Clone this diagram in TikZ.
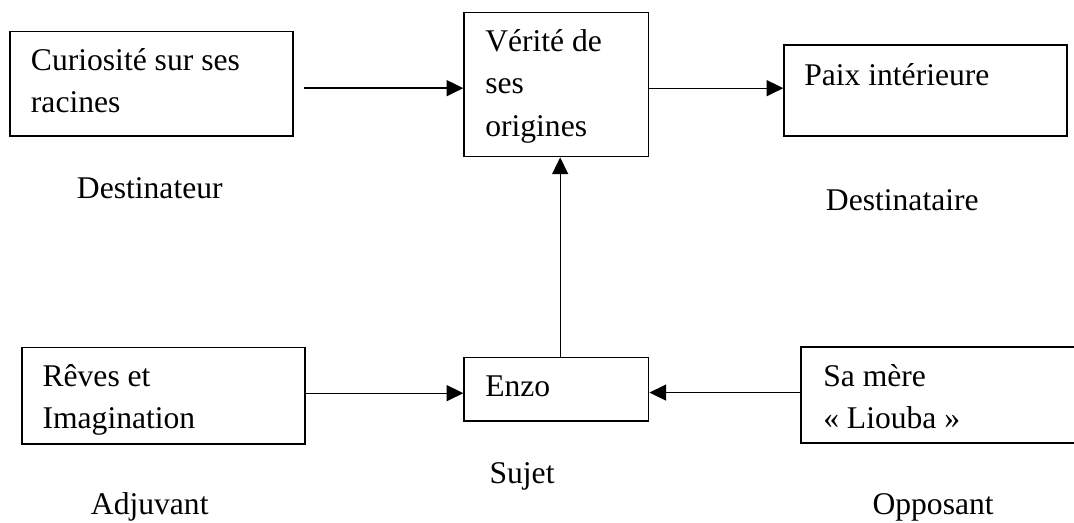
\documentclass[tikz,border=0pt]{standalone}
\usepackage{fontspec}
\setmainfont{Liberation Serif}
\usetikzlibrary{arrows.meta}
\newcommand{\twoline}[2]{\vtop{\baselineskip=31.9pt\lineskiplimit=-100pt\hbox{#1}\hbox{#2}}}
\newcommand{\threeline}[3]{\vtop{\baselineskip=31.9pt\lineskiplimit=-100pt\hbox{#1}\hbox{#2}\hbox{#3}}}
\begin{document}
\begin{tikzpicture}[x=0.75pt,y=-0.75pt,
  box/.style={draw,line width=1.3pt,inner sep=0pt,anchor=north west},
  openbox/.style={inner sep=0pt,anchor=north west},
  txt/.style={anchor=base west,inner sep=0pt,font=\fontsize{23.7pt}{31.9pt}\selectfont},
  arr/.style={line width=1pt,-{Triangle[length=12.5pt,width=12pt]}}]
\useasboundingbox (0,0) rectangle (1074,522);

% boxes
\node[box,minimum width=212.25pt,minimum height=78.2pt] (cur) at (9.3,30.7) {};
\node[box,minimum width=138.3pt,minimum height=108pt] (ver) at (463.3,11.7) {};
\node[box,minimum width=212.25pt,minimum height=68pt] (paix) at (783.3,44.3) {};
\node[box,minimum width=212.25pt,minimum height=72.45pt] (reve) at (21,346.7) {};
\node[box,minimum width=138.3pt,minimum height=47.5pt] (enzo) at (463.3,356.7) {};
\node[openbox,minimum width=205.3pt,minimum height=72pt] (mere) at (801.3,346.7) {};
\draw[line width=1.3pt] (mere.north east) -- (mere.north west) -- (mere.south west) -- (mere.south east);

% texts in boxes
\node[txt] (tcur) at (30.7,70) {\twoline{Curiosité sur ses}{racines}};
\node[txt] (tver) at (485,51) {\threeline{Vérité de}{ses}{origines}};
\node[txt] (tpaix) at (804,85) {Paix intérieure};
\node[txt] (treve) at (42.3,386) {\twoline{Rêves et}{Imagination}};
\node[txt] (tenzo) at (485,396.7) {Enzo};
\node[txt] (tmere) at (823,386) {\twoline{Sa mère}{« Liouba »}};

% role labels
\node[txt] (l1) at (76.7,198.3) {Destinateur};
\node[txt] (l2) at (825.7,210) {Destinataire};
\node[txt] (l3) at (489.3,483.3) {Sujet};
\node[txt] (l4) at (90.7,514.5) {Adjuvant};
\node[txt] (l5) at (872.3,514.5) {Opposant};

% connectors
\coordinate (a1) at ([shift={(10.4,4.45)}]cur.east);
\coordinate (a2) at ([shift={(0,3.6)}]ver.east);
\coordinate (a3) at ([shift={(3.8,0)}]enzo.north);
\coordinate (a4) at ([shift={(0,-2.7)}]reve.east);
\coordinate (a5) at ([shift={(0,-2.4)}]mere.west);
\draw[arr] (a1) -- (a1 -| ver.west);
\draw[arr] (a2) -- (a2 -| paix.west);
\draw[arr] (a3) -- (a3 |- ver.south);
\draw[arr] (a4) -- (a4 -| enzo.west);
\draw[arr] (a5) -- (a5 -| enzo.east);
\end{tikzpicture}
\end{document}
